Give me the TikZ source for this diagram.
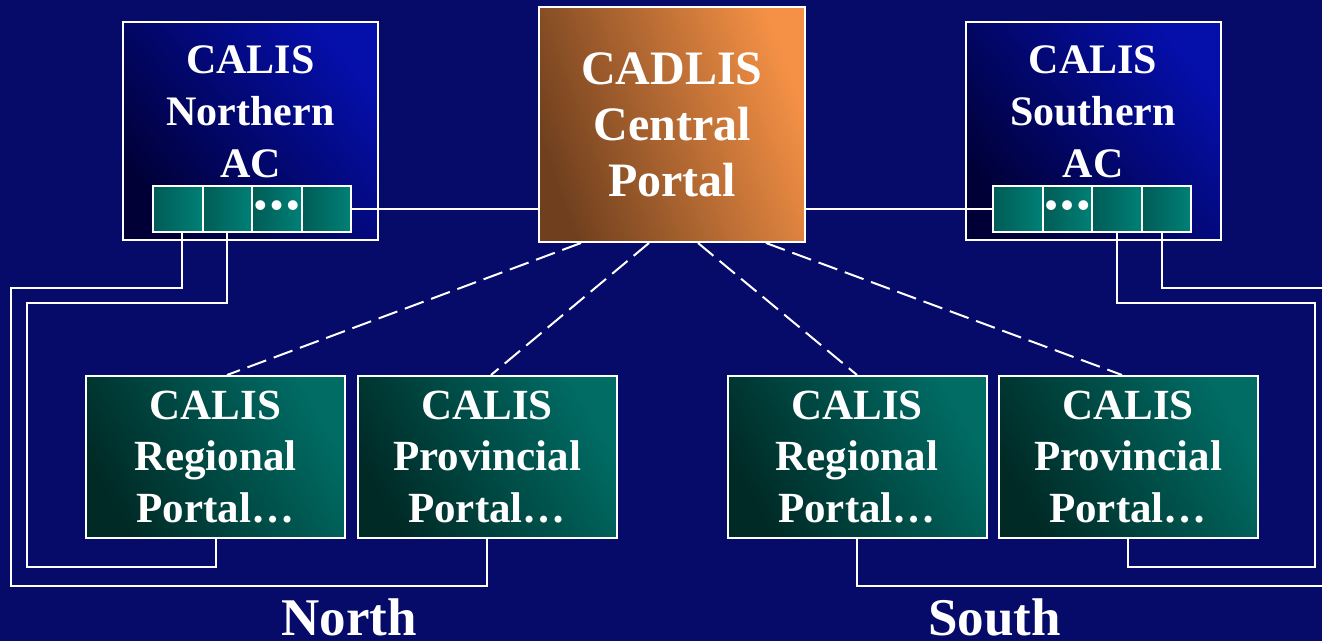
\documentclass[tikz,border=0pt]{standalone}
\usepackage{fontspec}
\setmainfont{Liberation Serif}
\usetikzlibrary{positioning}

\definecolor{bgnavy}{RGB}{6,10,105}
\definecolor{acdark}{RGB}{0,0,55}
\definecolor{aclight}{RGB}{5,15,170}
\definecolor{cdark}{RGB}{112,64,30}
\definecolor{clight}{RGB}{245,145,70}
\definecolor{pdark}{RGB}{0,42,38}
\definecolor{plight}{RGB}{0,108,100}
\definecolor{celldark}{RGB}{0,92,86}
\definecolor{celllight}{RGB}{0,128,118}

\tikzset{
  acbox/.style={draw=white,line width=1pt,minimum width=127.5pt,minimum height=109pt,
    bottom color=acdark,top color=aclight,shading angle=-50},
  centralbox/.style={draw=white,line width=1pt,minimum width=133pt,minimum height=117.5pt,
    left color=cdark,middle color=cdark!55!clight,right color=clight,shading angle=110,text=white,align=center,
    font=\fontsize{24}{28}\selectfont\bfseries},
  portalbox/.style={draw=white,line width=1pt,minimum width=129.5pt,minimum height=81pt,
    bottom color=pdark,top color=plight,shading angle=-60,text=white,align=center,
    font=\fontsize{21.5}{25.8}\selectfont\bfseries},
  cellbox/.style={draw=white,line width=1pt,outer sep=0pt,minimum width=24.75pt,minimum height=23pt,
    left color=celldark,right color=celllight,text=white,inner sep=0pt,
    font=\fontsize{18}{18}\selectfont\bfseries},
  actext/.style={text=white,align=center,inner sep=0pt,font=\fontsize{21}{25.8}\selectfont\bfseries},
  regionlabel/.style={text=white,anchor=base,inner sep=0pt,font=\fontsize{26.5}{30}\selectfont\bfseries},
  wire/.style={draw=white,line width=1pt},
  dashwire/.style={draw=white,line width=1pt,dash pattern=on 10pt off 4pt}
}
\newcommand{\celldots}{\textbullet\kern1.8pt\textbullet\kern1.8pt\textbullet}

\begin{document}
\begin{tikzpicture}[x=0.5pt,y=-0.5pt]
% background
\fill[bgnavy] (0,0) rectangle (1322,641);
\useasboundingbox (0,0) rectangle (1322,641);

% area centres
\node[acbox] (nac) at (250.5,131) {};
\node[actext,below=12.3pt of nac.north] (nac-txt) {CALIS\\Northern\\AC};
\node[acbox] (sac) at (1093,131) {};
\node[actext,below=12.3pt of sac.north] (sac-txt) {CALIS\\Southern\\AC};

% central portal
\node[centralbox] (cadlis) at (672,124.5) {CADLIS\\Central\\Portal};

% cell strips
\node[cellbox] (n1) at (177.75,209) {};
\node[cellbox,right=0pt of n1] (n2) {};
\node[cellbox,right=0pt of n2] (n3) {\celldots};
\node[cellbox,right=0pt of n3] (n4) {};
\node[cellbox] (s1) at (1017.75,209) {};
\node[cellbox,right=0pt of s1] (s2) {\celldots};
\node[cellbox,right=0pt of s2] (s3) {};
\node[cellbox,right=0pt of s3] (s4) {};

% portals
\node[portalbox] (rn) at (215.5,457) {CALIS\\Regional\\Portal\dots};
\node[portalbox] (pn) at (487,457) {CALIS\\Provincial\\Portal\dots};
\node[portalbox] (rs) at (857,457) {CALIS\\Regional\\Portal\dots};
\node[portalbox] (ps) at (1128,457) {CALIS\\Provincial\\Portal\dots};

% links to central
\draw[wire] (n4.east) -- (n4.east -| cadlis.west);
\draw[wire] (s1.west) -- (s1.west -| cadlis.east);
\draw[dashwire] ([xshift=-45.5pt]cadlis.south) -- ([xshift=5.75pt]rn.north);
\draw[dashwire] ([xshift=-11.5pt]cadlis.south) -- ([xshift=2pt]pn.north);
\draw[dashwire] ([xshift=13pt]cadlis.south) -- (rs.north);
\draw[dashwire] ([xshift=47pt]cadlis.south) -- ([xshift=-3pt]ps.north);

% wiring corners
\coordinate (nw1) at (11,288);
\coordinate (nw1b) at (11,586);
\coordinate (nw2) at (27,303);
\coordinate (nw2b) at (27,567);
\coordinate (se1) at (1326,288);
\coordinate (se1b) at (1326,586);
\coordinate (se2) at (1315,303);
\coordinate (se2b) at (1315,567);

\draw[wire] ([xshift=2pt]n1.south) |- (nw1) -- (nw1b) -| (pn.south);
\draw[wire] (n2.south) |- (nw2) -- (nw2b) -| (rn.south);
\draw[wire] ([xshift=-2pt]s4.south) |- (se1) -- (se1b) -| (rs.south);
\draw[wire] (s3.south) |- (se2) -- (se2b) -| (ps.south);

% regions
\node[regionlabel] (north) at (349,635) {North};
\node[regionlabel] (south) at (994.5,635) {South};
\end{tikzpicture}
\end{document}
